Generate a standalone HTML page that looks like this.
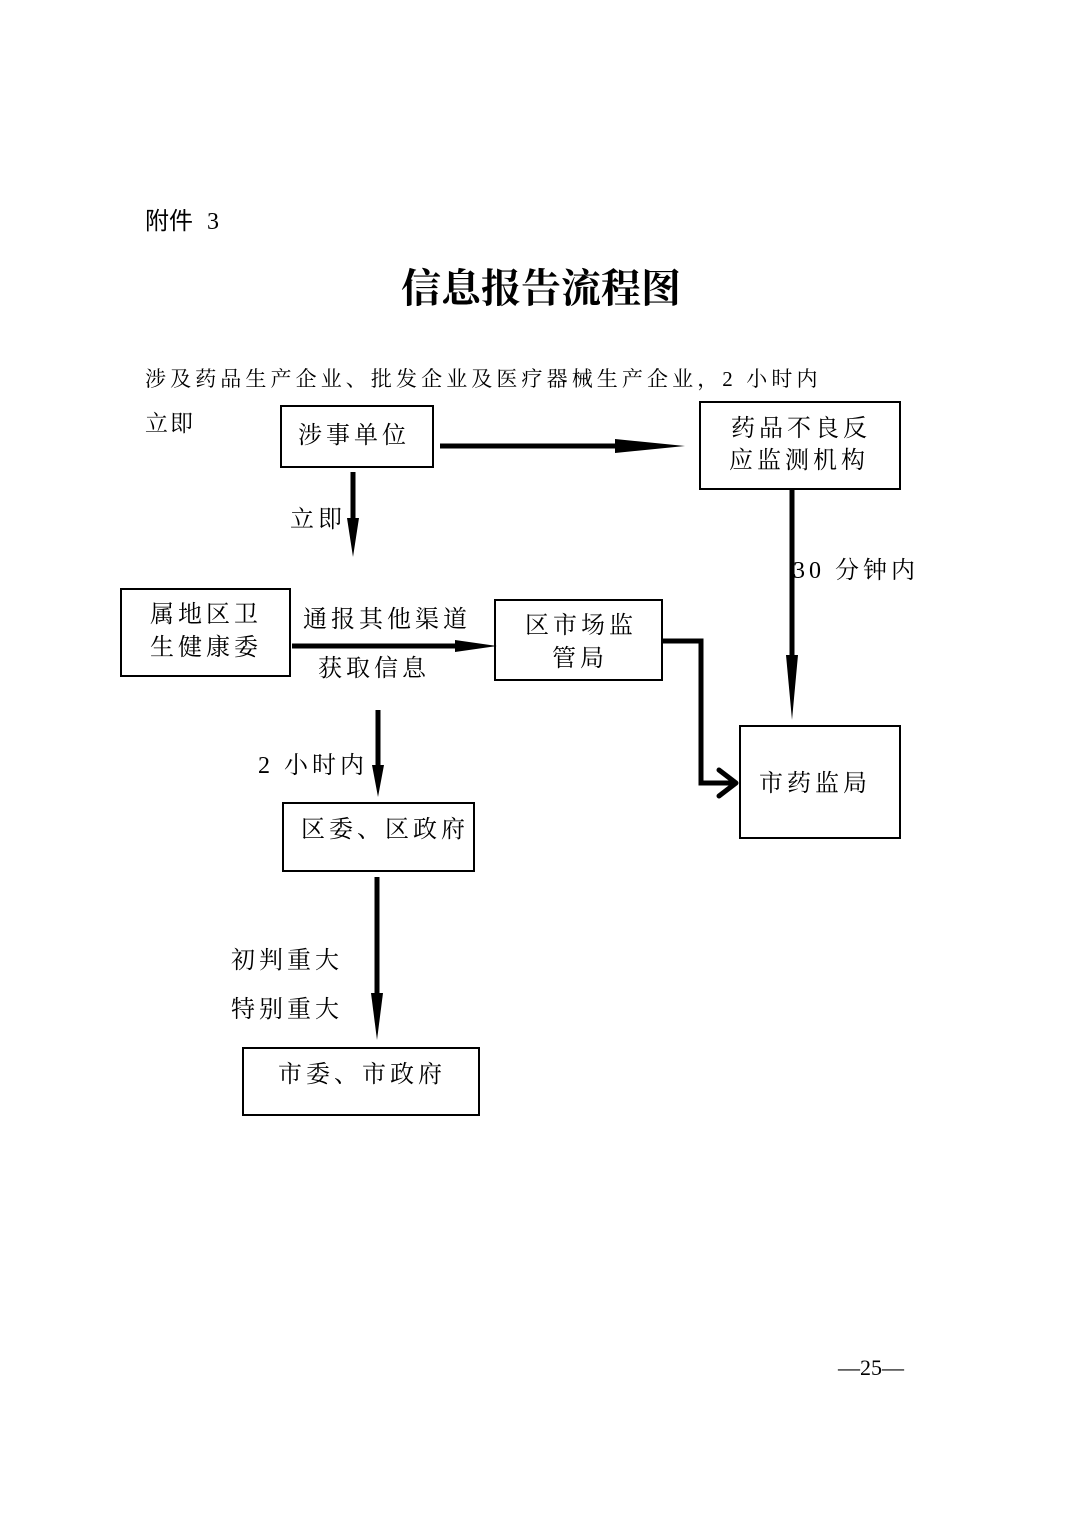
<!DOCTYPE html>
<html><head><meta charset="utf-8"><style>
html,body{margin:0;padding:0;background:#fff;}
svg{display:block;}
text{font-family:"Liberation Serif","Noto Serif CJK SC",serif;fill:#000;}
</style></head><body>
<svg width="1074" height="1520" viewBox="0 0 1074 1520" xmlns="http://www.w3.org/2000/svg">
<text x="145" y="229" font-size="24" style="font-family:'Liberation Sans','Noto Sans CJK SC',sans-serif">附件</text>
<text x="207" y="229" font-size="24">3</text>
<text x="541" y="302" font-size="40" font-weight="bold" text-anchor="middle">信息报告流程图</text>
<text x="145" y="386" font-size="21" letter-spacing="4.1">涉及药品生产企业、批发企业及医疗器械生产企业，2 小时内</text>
<text x="145" y="431" font-size="23" letter-spacing="2">立即</text>

<g fill="none" stroke="#000" stroke-width="2">
<rect x="281" y="406" width="152" height="61"/>
<rect x="700" y="402" width="200" height="87"/>
<rect x="121" y="589" width="169" height="87"/>
<rect x="495" y="600" width="167" height="80"/>
<rect x="740" y="726" width="160" height="112"/>
<rect x="283" y="803" width="191" height="68"/>
<rect x="243" y="1048" width="236" height="67"/>
</g>

<g font-size="24" letter-spacing="4">
<text x="298" y="443">涉事单位</text>
<text x="731" y="436">药品不良反</text>
<text x="729" y="468">应监测机构</text>
<text x="150" y="622">属地区卫</text>
<text x="150" y="655">生健康委</text>
<text x="525" y="633">区市场监</text>
<text x="552" y="666">管局</text>
<text x="759" y="791">市药监局</text>
<text x="301" y="837">区委、区政府</text>
<text x="278" y="1082">市委、市政府</text>
</g>
<g font-size="24" letter-spacing="4">
<text x="290" y="527">立即</text>
<text x="793" y="578">30 分钟内</text>
<text x="303" y="627">通报其他渠道</text>
<text x="318" y="676">获取信息</text>
<text x="258" y="773">2 小时内</text>
<text x="231" y="968">初判重大</text>
<text x="231" y="1017">特别重大</text>
</g>

<g stroke="#000" stroke-width="5" fill="none">
<line x1="440" y1="446" x2="620" y2="446"/>
<line x1="353" y1="472" x2="353" y2="525"/>
<line x1="792" y1="489" x2="792" y2="665"/>
<line x1="292" y1="646" x2="460" y2="646"/>
<line x1="378" y1="710" x2="378" y2="772"/>
<line x1="377" y1="877" x2="377" y2="998"/>
<polyline points="662,641 701,641 701,783 735,783"/>
<polyline points="719,770 736,783 719,796" stroke-linecap="round" stroke-linejoin="round"/>
</g>
<g fill="#000">
<polygon points="615,439 685,446 615,453"/>
<polygon points="347,518 353,557 359,518"/>
<polygon points="786,655 792,720 798,655"/>
<polygon points="455,640 497,646 455,652"/>
<polygon points="372,765 378,797 384,765"/>
<polygon points="371,993 377,1040 383,993"/>
</g>

<text x="871" y="1375" font-size="22" text-anchor="middle">—25—</text>
</svg>
</body></html>
